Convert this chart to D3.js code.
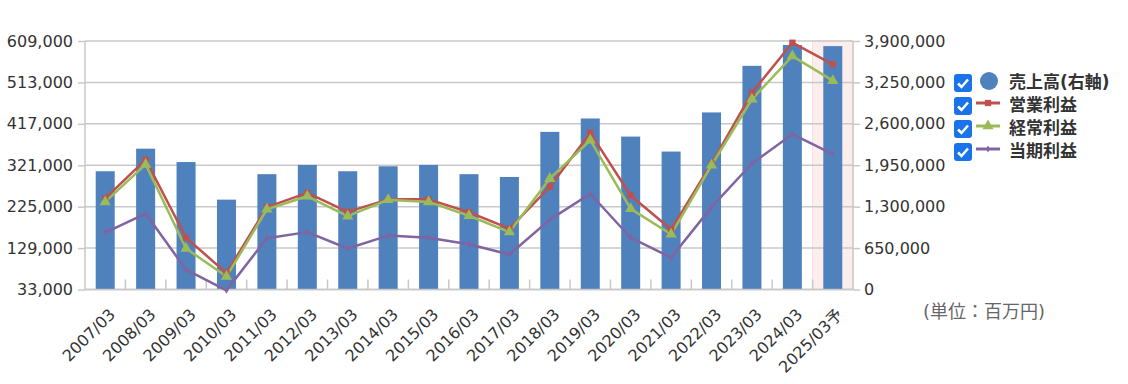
<!DOCTYPE html>
<meta charset="utf-8">
<script src="https://d3js.org/d3.v7.min.js"></script>
<style>
body { margin: 0; background: #fff; }
text { font-family: "DejaVu Sans", "Noto Sans CJK JP", sans-serif; }
.axis text { font-size: 16px; fill: #333; }
.axis path { stroke: #c8c8c8; stroke-width: 1.5px; }
.axis line { stroke: #c8c8c8; stroke-width: 1.5px; }
.grid line { stroke: #c8c8c8; stroke-width: 1.5px; }
.legend text { font-size: 17px; font-weight: bold; fill: #333; }
</style>
<body>
<div id="chart"></div>
<script>
var years = ["2007/03","2008/03","2009/03","2010/03","2011/03","2012/03","2013/03","2014/03","2015/03","2016/03",
             "2017/03","2018/03","2019/03","2020/03","2021/03","2022/03","2023/03","2024/03","2025/03予"]
// 売上高 (右軸)
var sales = [1856000,2210000,2000000,1410000,1810000,1955000,1856000,1934000,1955000,1810000,
             1766000,2474000,2684000,2400000,2165000,2779000,3510000,3837000,3820000]
var opProfit = [244000,334000,153000,71000,224000,257000,213000,242000,242000,212000,
                174000,271000,396000,251000,172000,325000,489000,605000,555000]
var ordProfit = [236000,323000,128000,63000,219000,249000,203000,241000,236000,204000,
                 166000,290000,379000,220000,161000,321000,474000,574000,517000]
var netProfit = [165000,209000,79000,31000,152000,166000,128000,158000,153000,138000,
                 114000,195000,255000,153000,107000,224000,325000,393000,347000]
var leftTicks = [33000,129000,225000,321000,417000,513000,609000]
var rightTicks = [0,650000,1300000,1950000,2600000,3250000,3900000]
var legendNames = ["売上高(右軸)","営業利益","経常利益","当期利益"]
var colors = ["#4f81bd","#c0504d","#9bbb59","#8064a2"]

width = 1128
height = 384
plot = {left: 85, right: 853, top: 41, bottom: 289.5}

svg = d3.select("#chart").append("svg")
        .attr("width", width)
        .attr("height", height)

xScale = d3.scaleBand()
        .domain(years)
        .range([plot.left, plot.right])

yLeft = d3.scaleLinear()
        .domain([33000, 609000])
        .range([plot.bottom, plot.top])

yRight = d3.scaleLinear()
        .domain([0, 3900000])
        .range([plot.bottom, plot.top])

// forecast column highlight
last = years[years.length-1]
svg.append("rect")
   .attr("x", xScale(last))
   .attr("y", plot.top)
   .attr("width", xScale.bandwidth())
   .attr("height", plot.bottom - plot.top)
   .attr("fill", "#fdeeee")
   .attr("stroke", "#f9dcdc")

// gridlines
svg.append("g").attr("class", "grid")
   .selectAll("line")
   .data(leftTicks)
   .enter().append("line")
   .attr("x1", plot.left).attr("x2", plot.right)
   .attr("y1", function(d){return yLeft(d)})
   .attr("y2", function(d){return yLeft(d)})

// bars
barW = 19
svg.append("g")
   .selectAll("rect")
   .data(sales)
   .enter().append("rect")
   .attr("x", function(d,i){return xScale(years[i]) + xScale.bandwidth()/2 - barW/2})
   .attr("y", function(d){return yRight(d)})
   .attr("width", barW)
   .attr("height", function(d){return plot.bottom - yRight(d)})
   .attr("fill", colors[0])

// axes
svg.append("g").attr("class", "axis")
   .attr("transform", "translate(" + plot.left + ",0)")
   .call(d3.axisLeft(yLeft).tickValues(leftTicks).tickSize(7).tickPadding(5).tickFormat(d3.format(",")))

svg.append("g").attr("class", "axis")
   .attr("transform", "translate(" + plot.right + ",0)")
   .call(d3.axisRight(yRight).tickValues(rightTicks).tickSize(7).tickPadding(4).tickFormat(d3.format(",")))

svg.selectAll(".axis path").attr("d", "M0," + plot.top + "V" + plot.bottom)

bottom = svg.append("g").attr("class", "axis")
   .attr("transform", "translate(0," + plot.bottom + ")")
bottom.append("line")
   .attr("x1", plot.left).attr("x2", plot.right)
bottom.selectAll(".tk")
   .data(years.slice(1))
   .enter().append("line")
   .attr("class", "tk")
   .attr("x1", function(d){return xScale(d)})
   .attr("x2", function(d){return xScale(d)})
   .attr("y1", 0).attr("y2", -10)
bottom.selectAll("text")
   .data(years)
   .enter().append("text")
   .attr("text-anchor", "end")
   .attr("transform", function(d){
     return "translate(" + (xScale(d) + xScale.bandwidth()/2 + 7) + ",22) rotate(-45)"})
   .attr("dy", "0.35em")
   .text(function(d){return d})

// lines
line = d3.line()
   .x(function(d,i){return xScale(years[i]) + xScale.bandwidth()/2})
   .y(function(d){return yLeft(d)})

series = [opProfit, ordProfit, netProfit]
series.forEach(function(s, k){
  svg.append("path")
     .datum(s)
     .attr("d", line)
     .attr("fill", "none")
     .attr("stroke", colors[k+1])
     .attr("stroke-width", 2.5)
     .attr("stroke-linejoin", "round")
})

sym = [d3.symbolSquare, d3.symbolTriangle, d3.symbolDiamond]
symSize = [40, 55, 14]
series.forEach(function(s, k){
  svg.append("g").selectAll("path")
     .data(s)
     .enter().append("path")
     .attr("transform", function(d,i){
       return "translate(" + (xScale(years[i]) + xScale.bandwidth()/2) + "," + yLeft(d) + ")"})
     .attr("d", d3.symbol().type(sym[k]).size(symSize[k]))
     .attr("fill", colors[k+1])
})

// legend
legend = svg.append("g").attr("class", "legend")
   .attr("transform", "translate(954,74)")
rows = legend.selectAll("g")
   .data(legendNames)
   .enter().append("g")
   .attr("transform", function(d,i){return "translate(0," + i*23 + ")"})
rows.append("rect")
   .attr("width", 18).attr("height", 18).attr("rx", 3)
   .attr("fill", "#1a73e8")
rows.append("path")
   .attr("d", "M4,9.5 L7.5,13 L14,5.5")
   .attr("fill", "none")
   .attr("stroke", "#fff")
   .attr("stroke-width", 2.5)
rows.filter(function(d,i){return i==0})
   .append("circle")
   .attr("cx", 35).attr("cy", 7).attr("r", 9)
   .attr("fill", colors[0])
rows.filter(function(d,i){return i>0})
   .append("line")
   .attr("x1", 22).attr("x2", 46).attr("y1", 6).attr("y2", 6)
   .attr("stroke", function(d,i){return colors[i+1]})
   .attr("stroke-width", 3)
rows.filter(function(d,i){return i>0})
   .append("path")
   .attr("transform", "translate(34,6)")
   .attr("d", function(d,i){return d3.symbol().type(sym[i]).size(symSize[i])()})
   .attr("fill", function(d,i){return colors[i+1]})
rows.append("text")
   .attr("x", 55).attr("y", 14)
   .text(function(d){return d})

svg.append("text")
   .attr("x", 923).attr("y", 318)
   .style("font-size", "18px")
   .attr("fill", "#666")
   .text("(単位：百万円)")
</script>
</body>
</html>
